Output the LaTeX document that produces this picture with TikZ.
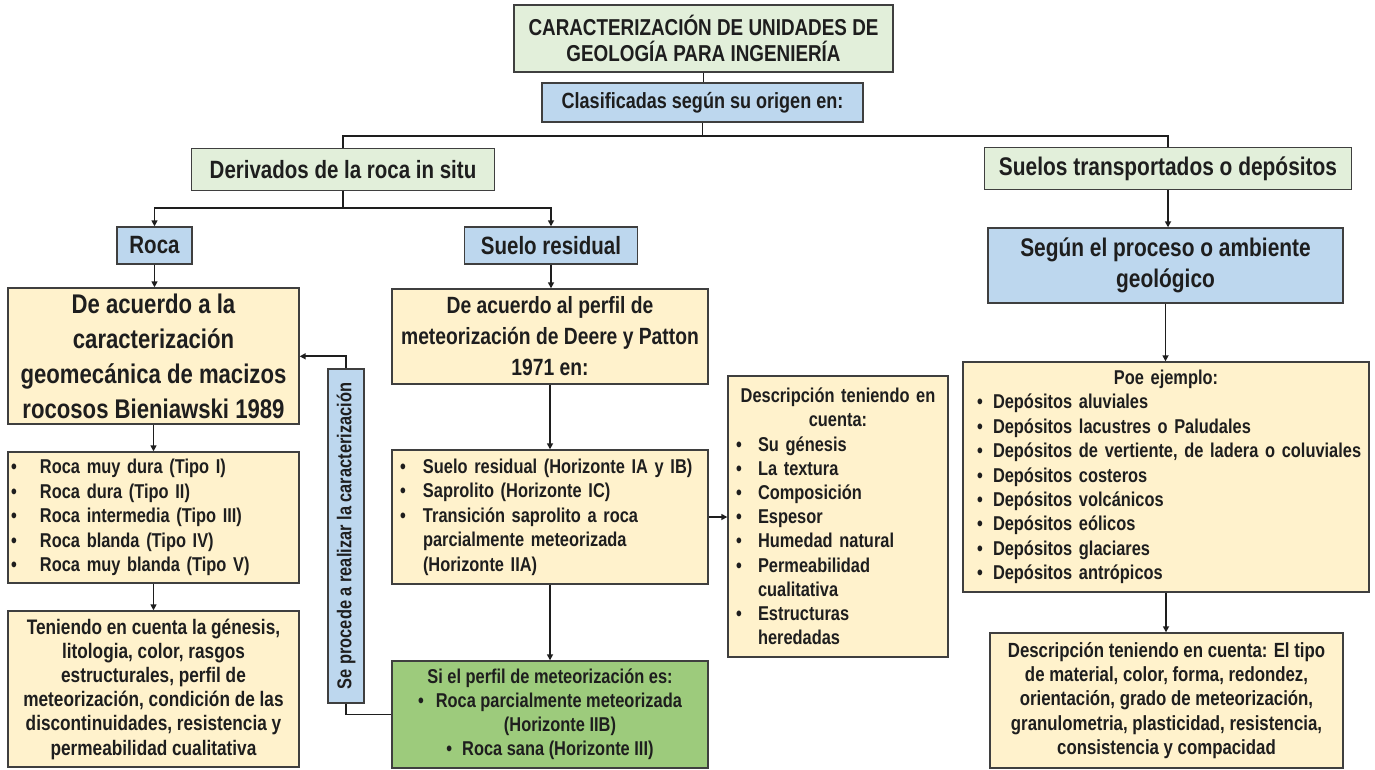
\documentclass[tikz,border=0pt]{standalone}
\usepackage{fontspec}
\setmainfont{Liberation Sans}[FakeStretch=0.82]
\usepackage{tikz}
\usetikzlibrary{positioning, arrows.meta, calc}
\definecolor{edge}{HTML}{3F3F3F}
\definecolor{ink}{HTML}{1E1E1E}
\definecolor{titlebg}{HTML}{E2EFDA}
\definecolor{bluebg}{HTML}{BDD7EE}
\definecolor{notebg}{HTML}{FFF2CC}
\definecolor{greenbg}{HTML}{9DCB7C}
\newcommand{\fsz}[2]{\fontsize{#1}{#2}\selectfont\bfseries}
\newcommand{\bul}[1][20pt]{\makebox[#1][l]{\textbullet}}
\tikzset{
  base box/.style={
    draw=edge,
    line width=1.4pt,
    text=ink,
    inner sep=0pt,
    align=center
  },
  title box/.style={base box, fill=titlebg},
  blue box/.style={base box, fill=bluebg},
  note box/.style={base box, fill=notebg},
  green box/.style={base box, fill=greenbg},
  tree line/.style={draw=ink, line width=1.8pt},
  tree arrow/.style={tree line, -{Triangle[length=6pt,width=6pt]}}
}

\begin{document}
\begin{tikzpicture}[x=1pt, y=-1pt]
  \useasboundingbox[fill=white] (0,0) rectangle (1375,769);

  % top levels
  \node[title box, minimum width=379pt, minimum height=67pt, font=\fsz{23}{26.5}] (titulo) at (703.5,38.5)
    {CARACTERIZACIÓN DE UNIDADES DE\\GEOLOGÍA PARA INGENIERÍA};
  \node[blue box, minimum width=321pt, minimum height=39pt, font=\fsz{22}{26}] (clasif) at (702.5,102.5)
    {Clasificadas según su origen en:};
  \node[title box, minimum width=303pt, minimum height=42pt, font=\fsz{25}{30}] (derivados) at (343,169.5)
    {Derivados de la roca in situ};
  \node[title box, minimum width=367pt, minimum height=42pt, font=\fsz{25.5}{30}] (transp) at (1168,168.5)
    {Suelos transportados o depósitos};
  \node[blue box, minimum width=75pt, minimum height=37pt, font=\fsz{25}{30}] (roca) at (154.5,245.5) {Roca};
  \node[blue box, minimum width=173pt, minimum height=37pt, font=\fsz{25}{30}] (suelores) at (551,245.5) {Suelo residual};

  % left column
  \node[note box, minimum width=291pt, minimum height=136pt, font=\fsz{27}{35}] (acuerdoL) at (153.5,356)
    {De acuerdo a la\\caracterización\\geomecánica de macizos\\rocosos Bieniawski 1989};
  \node[note box, minimum width=291pt, minimum height=131pt, text width=285pt, inner xsep=3pt,
        align=left, font=\fsz{20}{24.5}] (rocalist) at (153.5,517.5)
    {\bul[29pt]Roca muy dura (Tipo I)\\
     \bul[29pt]Roca dura (Tipo II)\\
     \bul[29pt]Roca intermedia (Tipo III)\\
     \bul[29pt]Roca blanda (Tipo IV)\\
     \bul[29pt]Roca muy blanda (Tipo V)};
  \node[note box, minimum width=291pt, minimum height=156pt, font=\fsz{21}{24.2}] (teniendo) at (153.5,689)
    {Teniendo en cuenta la génesis,\\litologia, color, rasgos\\estructurales, perfil de\\meteorización, condición de las\\discontinuidades, resistencia y\\permeabilidad cualitativa};
  \node[blue box, rotate=90, minimum width=334pt, minimum height=36pt, font=\fsz{20}{24}] (vert) at (346,536)
    {Se procede a realizar la caracterización};

  % middle column
  \node[note box, minimum width=316pt, minimum height=95pt, font=\fsz{23.5}{31}] (macuerdo) at (550,336.5)
    {De acuerdo al perfil de\\meteorización de Deere y Patton\\1971 en:};
  \node[note box, minimum width=316pt, minimum height=134pt, text width=300pt, inner xsep=8pt,
        align=left, font=\fsz{20}{24.5}] (mlist) at (550,517)
    {\bul[23pt]Suelo residual (Horizonte IA y IB)\\
     \bul[23pt]Saprolito (Horizonte IC)\\
     \bul[23pt]Transición saprolito a roca\\
     \hspace*{23pt}parcialmente meteorizada\\
     \hspace*{23pt}(Horizonte IIA)};
  \node[green box, minimum width=316pt, minimum height=107pt, font=\fsz{20}{24}] (verde) at (550,714.5)
    {Si el perfil de meteorización es:\\
     \textbullet\hspace{12pt}Roca parcialmente meteorizada\\
     \hspace*{20pt}(Horizonte IIB)\\
     \textbullet\hspace{10pt}Roca sana (Horizonte III)};
  \node[note box, minimum width=220pt, minimum height=281pt, text width=204pt, inner xsep=8pt,
        align=left, font=\fsz{20}{24.2}] (desc) at (838,516.5)
    {\makebox[\hsize]{Descripción teniendo en}\\
     \makebox[\hsize]{cuenta:}\\
     \bul[22pt]Su génesis\\
     \bul[22pt]La textura\\
     \bul[22pt]Composición\\
     \bul[22pt]Espesor\\
     \bul[22pt]Humedad natural\\
     \bul[22pt]Permeabilidad\\
     \hspace*{22pt}cualitativa\\
     \bul[22pt]Estructuras\\
     \hspace*{22pt}heredadas};

  % right column
  \node[blue box, minimum width=355pt, minimum height=75pt, font=\fsz{25.5}{31}] (segun) at (1165.5,265.5)
    {Según el proceso o ambiente\\geológico};
  \node[note box, minimum width=406pt, minimum height=230pt, text width=392pt, inner xsep=7pt,
        align=left, font=\fsz{20}{24.4}] (poe) at (1166,477)
    {\makebox[\hsize]{Poe ejemplo:}\\
     \hspace*{7pt}\bul[16pt]Depósitos aluviales\\
     \hspace*{7pt}\bul[16pt]Depósitos lacustres o Paludales\\
     \hspace*{7pt}\bul[16pt]Depósitos de vertiente, de ladera o coluviales\\
     \hspace*{7pt}\bul[16pt]Depósitos costeros\\
     \hspace*{7pt}\bul[16pt]Depósitos volcánicos\\
     \hspace*{7pt}\bul[16pt]Depósitos eólicos\\
     \hspace*{7pt}\bul[16pt]Depósitos glaciares\\
     \hspace*{7pt}\bul[16pt]Depósitos antrópicos};
  \node[note box, minimum width=353pt, minimum height=135pt, font=\fsz{20.5}{24.4}] (descr) at (1166.5,700.5)
    {Descripción teniendo en cuenta: El tipo\\de material, color, forma, redondez,\\orientación, grado de meteorización,\\granulometria, plasticidad, resistencia,\\consistencia y compacidad};

  % connectors
  \draw[tree line] (titulo.south) -- (titulo.south |- clasif.north);
  \draw[tree line] (clasif.south) -- ++(0,13) coordinate (rama);
  \draw[tree line] (rama) -| (derivados.north);
  \draw[tree line] (rama) -| (transp.north);
  \draw[tree line] (derivados.south) -- ++(0,17) coordinate (rama2);
  \draw[tree arrow] (rama2) -| (roca.north);
  \draw[tree arrow] (rama2) -| (suelores.north);

  \draw[tree arrow] (roca.south) -- (roca.south |- acuerdoL.north);
  \draw[tree arrow] (acuerdoL.south) -- (rocalist.north);
  \draw[tree arrow] (rocalist.south) -- (teniendo.north);
  \coordinate (vtop) at ($(vert.east)+(0,-12)$);
  \draw[tree arrow] (vert.east) -- (vtop) -- (vtop -| acuerdoL.east);
  \draw[tree line] (vert.west) |- (verde.west);

  \draw[tree arrow] (suelores.south) -- (suelores.south |- macuerdo.north);
  \draw[tree arrow] (macuerdo.south) -- (mlist.north);
  \draw[tree arrow] (mlist.south) -- (verde.north);
  \draw[tree arrow] (mlist.east) -- (mlist.east -| desc.west);

  \draw[tree arrow] (transp.south) -- (transp.south |- segun.north);
  \draw[tree arrow] (segun.south) -- (segun.south |- poe.north);
  \draw[tree arrow] (poe.south) -- (poe.south |- descr.north);
\end{tikzpicture}
\end{document}
